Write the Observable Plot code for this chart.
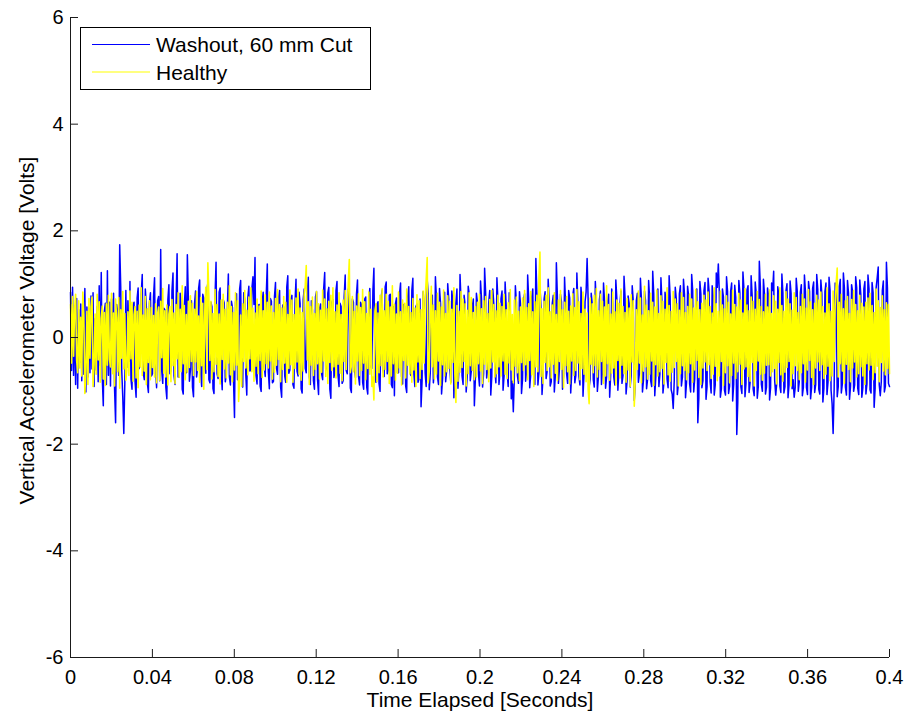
<!DOCTYPE html>
<html>
<head>
<meta charset="utf-8">
<script src="https://cdn.jsdelivr.net/npm/d3@7"></script>
<script src="https://cdn.jsdelivr.net/npm/@observablehq/plot@0.6"></script>
<style>
  html, body { margin: 0; padding: 0; background: #fff; }
  #wrap { position: relative; width: 908px; height: 717px; font-family: "Liberation Sans", Arial, sans-serif; }
  #legend { position: absolute; left: 80px; top: 27px; width: 291px; height: 63px; border: 1px solid #000; background: #fff; box-sizing: border-box; }
</style>
</head>
<body>
<div id="wrap"><div id="chart"></div><div id="legend"></div></div>
<script>
// ---- data ----
const seriesNames = ["Washout, 60 mm Cut", "Healthy"];
const seriesColors = ["#0000ff", "#ffff00"];
const timeStart = 0, timeEnd = 0.4;   // seconds covered by the samples

// Washout, 60 mm Cut: vertical accelerometer voltage [V], one row per 0.02 s
const washout = [
  0.85,-0.62,0.94,-0.71,0.41,-0.88,0.73,-0.95,0.52,-0.47,0.63,-0.81,0.38,-0.69,0.92,-1.02,0.57,-0.74,0.55,-0.66,
  0.78,-0.59,0.84,-0.92,0.35,-0.61,0.58,-0.83,0.97,-0.52,1.22,-0.76,-1.28,0.49,0.64,-0.88,1.25,-0.71,0.66,-0.91,
  0.72,-0.54,0.83,-0.97,-1.60,0.62,0.48,-0.71,1.74,0.95,-0.62,-1.12,-1.80,-0.84,0.88,-0.56,0.69,-0.45,1.05,-0.78,
  -0.97,0.61,0.66,-0.83,-1.12,0.74,0.93,-0.58,-0.51,0.82,1.18,-0.67,-0.79,0.91,0.58,-0.86,-1.03,0.64,0.84,-0.72,
  -0.68,0.77,1.12,-0.58,-0.94,0.69,0.77,-0.81,1.65,-0.62,-0.86,0.55,0.52,-0.93,-1.15,0.71,0.99,-0.68,-0.63,0.88,
  1.21,-0.72,-0.88,0.64,1.57,-0.74,-0.74,0.83,0.61,-0.97,-1.06,0.58,0.95,-0.66,1.55,0.72,-0.82,-0.61,0.69,-0.93,
  -1.11,0.63,0.87,-0.74,-0.56,0.92,1.08,-0.67,-0.92,0.81,0.74,-0.55,-0.67,0.88,1.02,-0.79,-0.85,0.66,0.58,-0.96,
  -1.05,0.77,1.41,-0.68,-0.77,0.85,0.93,-0.62,-0.98,0.71,0.65,-0.83,-0.71,0.54,1.19,-0.73,-0.89,0.68,0.56,-0.78,
  -1.50,0.66,0.82,-0.79,-0.64,0.91,1.07,-0.58,-0.93,0.84,0.71,-0.69,-1.08,0.75,0.96,-0.63,-0.59,0.92,1.14,0.62,
  1.50,-0.71,-0.87,0.58,0.62,-0.91,-1.01,0.67,0.85,-0.55,-0.73,0.81,1.38,-0.64,-0.96,0.73,0.68,-0.85,-0.82,0.77,
  1.03,-0.58,-0.69,0.74,0.88,-0.93,-1.12,0.61,0.57,-0.72,-0.84,0.95,1.16,-0.67,-0.61,0.73,0.79,-0.88,-0.95,0.64,
  1.09,-0.63,-0.72,0.85,0.64,-0.96,-1.04,0.71,0.91,-0.58,-0.66,0.82,1.13,-0.74,-0.88,0.69,0.52,-0.81,-0.97,0.76,
  0.86,-0.79,-1.07,0.55,0.63,-0.68,-0.79,0.92,1.22,-0.61,-0.54,0.83,0.94,-0.97,-1.14,0.66,0.71,-0.75,-0.63,0.88,
  1.05,-0.71,-0.92,0.64,0.58,-0.86,-0.81,0.77,1.17,-0.62,-0.68,0.91,0.83,-0.95,-1.03,0.72,0.66,-0.58,-0.75,0.81,
  1.08,-0.73,-0.89,0.66,0.61,-0.84,-0.97,0.72,0.76,-0.93,-1.06,0.68,0.92,-0.55,-0.58,0.87,1.30,-0.71,-0.84,0.62,
  0.67,-0.86,-1.01,0.74,0.89,-0.61,-0.73,0.95,1.04,-0.68,-0.62,0.79,0.81,-0.88,-0.94,0.58,-1.09,0.63,0.74,-0.66,
  -0.66,0.81,1.02,-0.73,-0.87,0.62,0.59,-0.91,-1.03,0.77,0.95,-0.64,-0.71,0.88,1.11,-0.69,-0.92,0.58,0.63,-0.84,
  -0.78,0.72,-1.30,-0.81,0.86,0.61,-0.67,-0.92,1.07,0.83,-0.98,-0.66,0.55,0.79,-0.85,-0.62,1.14,0.71,-0.74,-0.88,
  0.92,0.64,-1.06,-0.77,0.68,0.85,-0.83,-0.61,1.01,0.72,-0.59,-0.84,0.87,0.66,-1.13,-0.73,0.64,0.91,-0.95,-0.58,
  1.18,0.69,-0.72,-0.88,0.79,0.61,-1.02,-0.74,0.96,0.81,-0.81,-0.63,0.57,0.72,-1.28,-0.77,0.83,0.66,-0.69,-0.91,
  1.06,0.72,-0.93,-0.68,1.30,0.84,-0.76,-0.59,0.65,0.88,-1.08,-0.73,0.91,0.62,-0.62,-0.85,1.12,0.69,-0.88,-0.64,
  0.73,0.87,-0.99,-0.71,1.04,0.61,-0.67,-0.92,0.84,0.58,-1.15,-0.82,-1.39,-0.74,0.97,0.66,-0.71,-0.86,0.86,0.63,
  -1.05,-0.78,0.69,0.82,-0.82,-0.61,1.17,0.73,-0.94,-0.69,0.76,0.91,-0.63,-0.88,1.48,0.81,-0.89,-0.66,0.95,0.59,
  -1.07,-0.74,0.72,0.86,-0.77,-0.63,1.09,0.68,-0.91,-0.83,0.64,0.79,-1.02,-0.71,1.40,0.77,-0.86,-0.58,0.81,0.67,
  -0.97,-0.72,1.13,0.61,-0.68,-0.86,0.88,0.74,-1.04,-0.65,0.79,0.92,-0.85,-0.71,1.21,0.63,-0.73,-0.89,0.94,0.68,
  -1.10,-0.66,0.67,0.85,1.48,0.71,-0.92,-0.78,0.83,0.62,-0.79,-0.93,1.05,0.66,-1.01,-0.74,0.71,0.87,-0.88,-0.63,
  1.02,0.68,-0.95,-0.74,0.66,0.81,-1.12,-0.69,0.91,0.64,-0.74,-0.89,1.08,0.73,-0.99,-0.62,0.62,0.87,-0.86,-0.71,
  1.15,0.76,-1.06,-0.82,0.78,0.64,-0.93,-0.71,0.97,0.69,-1.18,-0.86,0.69,0.83,-0.84,-0.68,1.11,0.72,-1.02,-0.79,
  0.87,0.69,-0.96,-0.78,1.07,0.73,-0.81,-0.92,1.24,0.82,-1.09,-0.74,0.73,0.91,-0.92,-0.69,1.12,0.68,-1.04,-0.83,
  0.85,0.66,-0.78,-0.94,1.16,0.77,-0.98,-1.06,-1.33,-0.81,0.94,0.72,-1.07,-0.88,0.82,0.97,-0.91,-0.74,1.09,0.81,
  -1.13,-0.84,0.96,0.79,-0.87,-1.02,1.18,0.88,-1.02,-0.77,0.79,0.91,-1.60,-1.14,1.05,0.82,-0.94,-0.81,0.88,1.03,
  -1.16,-0.92,1.11,0.86,-0.83,-1.04,0.97,0.79,-1.08,-0.89,1.21,0.94,1.38,0.84,-1.12,-0.96,0.91,0.76,-0.99,-1.08,
  1.14,0.87,-1.05,-0.91,0.86,1.02,-1.19,-0.88,0.98,0.76,-1.82,-1.21,1.07,0.84,-0.92,-1.05,1.23,0.91,-1.11,-0.86,
  0.89,0.97,-1.03,-0.84,1.16,0.79,-0.97,-1.09,1.04,0.81,-1.14,-0.92,1.43,0.96,-0.88,-1.01,1.09,0.82,-1.06,-0.93,
  0.93,0.78,-1.17,-0.94,1.02,0.88,1.24,-0.81,-1.08,-0.86,0.95,0.79,-0.91,-1.03,1.19,0.84,-1.04,-0.92,0.87,1.01,
  -1.13,-0.88,1.06,0.83,-0.96,-0.79,-1.12,-0.94,1.11,0.87,-1.01,-0.82,0.84,0.99,-1.09,-0.93,1.17,0.86,-0.94,-1.07,
  1.05,0.86,-1.15,-0.93,0.92,1.04,-1.03,-0.88,1.18,0.91,-0.97,-1.06,1.08,0.82,-1.21,-0.95,0.86,1.02,-1.07,-0.84,
  1.13,0.89,-0.99,-1.24,-1.80,-0.97,1.02,0.85,-1.11,-0.92,0.96,1.09,-1.04,-0.87,1.21,0.93,-0.93,-1.08,1.07,0.84,
  -1.16,-0.91,0.99,0.86,-1.01,-0.89,1.14,0.93,-0.95,-1.07,1.08,0.81,-1.12,-0.94,0.91,1.05,-1.06,-0.87,1.17,0.92,
  -0.98,-1.04,1.03,0.84,-1.31,-0.95,0.94,1.12,1.32,-0.89,-1.09,-0.83,0.88,1.06,-1.02,-0.91,1.41,0.93,-0.86,-0.92
];

// Healthy: vertical accelerometer voltage [V], one row per 0.01 s
const healthy = [
  0.62,-0.48,0.77,-0.35,0.54,0.81,-0.43,-0.66,0.69,-0.57,0.38,-0.72,0.85,0.44,-1.05,-0.61,0.49,-0.88,0.73,-0.39,
  0.58,0.76,-0.92,-0.51,0.44,-0.69,0.81,-0.42,0.67,-0.84,0.36,0.59,-0.78,0.47,-0.90,0.63,-0.52,0.79,-0.41,-0.55,
  0.83,-0.68,0.46,-0.91,0.72,0.37,-0.64,0.75,-0.95,0.52,-0.39,0.86,-0.59,0.45,-0.80,-0.62,0.48,-0.71,0.87,-0.40,
  0.66,-0.82,0.43,0.58,-0.76,0.49,-0.94,0.61,-0.55,0.93,-0.71,0.42,-0.63,0.77,-0.88,0.54,-0.47,0.69,-0.79,0.56,
  -0.56,0.41,-0.74,0.63,-0.85,0.45,0.57,-0.80,0.68,-0.38,0.92,-0.67,0.50,-0.74,0.61,-0.89,0.44,0.58,-0.83,0.71,
  -0.53,0.46,-0.86,0.62,-0.40,0.84,-0.75,0.53,-0.64,0.97,-0.49,0.60,-0.79,0.43,-0.65,0.68,-0.56,0.78,-0.45,0.64,
  -0.71,0.53,-0.46,0.86,-0.62,0.40,-0.84,0.75,-0.53,0.64,-0.97,0.49,0.94,-0.60,1.40,0.79,-0.43,0.68,-0.78,0.45,
  -0.64,0.90,-0.50,0.62,-0.73,0.44,-0.87,0.70,-0.41,0.81,-0.59,0.53,-0.76,0.66,-0.48,0.97,-0.70,0.58,-0.83,0.47,
  -0.61,0.84,-0.52,0.69,-1.20,-0.79,0.42,-0.92,0.63,-0.45,0.88,-0.57,0.51,-0.70,0.76,-0.40,0.93,-0.64,0.55,-0.82,
  0.46,-0.54,0.72,-0.68,0.59,-0.43,0.87,-0.75,0.50,-0.61,0.80,-0.49,0.66,-0.57,0.85,-0.44,0.59,-0.78,0.47,-0.65,
  0.73,-0.52,0.90,-0.41,0.62,-0.83,0.55,-0.60,0.77,-0.48,0.66,-0.84,0.43,-0.58,0.89,-0.51,0.70,-0.84,0.43,-0.58,
  0.74,-0.46,0.91,-0.69,0.55,-0.80,0.47,-0.63,0.82,0.97,1.35,-0.42,0.67,-0.88,0.58,-0.52,0.76,-0.71,0.45,-0.60,
  0.86,-0.49,0.63,-0.78,0.51,-0.65,0.89,-0.44,0.72,-0.73,0.54,-0.86,0.68,-0.47,0.79,-0.62,0.93,-0.55,0.48,-0.76,
  0.61,-0.50,0.84,-0.67,0.43,-0.81,0.70,-0.45,0.88,-0.60,0.52,1.02,1.46,-0.66,-0.53,0.77,-0.64,0.49,-0.87,0.59,
  -0.44,0.82,-0.71,0.56,-0.62,0.90,-0.48,0.67,-0.79,0.45,-0.58,0.85,-0.69,0.53,-0.92,-0.74,-1.17,0.50,0.63,-0.83,
  0.46,-0.66,0.79,-0.53,0.92,-0.74,0.50,-0.60,0.81,-0.45,0.68,-0.86,0.57,-0.72,0.97,-0.49,0.62,-0.80,0.44,-0.67,
  0.85,-0.57,0.48,-0.89,0.70,-0.43,0.64,-0.76,0.91,-0.52,0.58,-0.68,0.47,-0.84,0.73,-0.61,0.55,-0.92,0.80,-0.46,
  0.69,-0.77,0.52,-0.60,0.87,-0.48,0.74,1.08,1.50,-0.85,-0.63,0.42,0.96,-0.55,0.61,-0.78,0.50,-0.69,0.83,-0.44,
  0.66,-0.90,0.57,-0.51,0.89,-0.72,0.45,-0.64,0.78,-0.58,0.68,-0.87,0.53,-0.47,0.93,-0.70,-1.22,0.60,-0.82,0.49,
  -0.65,0.86,-0.56,0.72,-0.45,0.63,-0.91,0.51,-0.68,0.84,-0.53,0.75,-0.62,0.47,-0.79,0.58,-0.74,0.66,-0.49,0.81,
  -0.63,0.54,-0.86,0.69,-0.50,0.77,-0.60,0.45,-0.83,0.71,-0.57,0.88,-0.46,0.62,-0.74,0.50,-0.68,0.79,-0.55,0.64,
  -0.72,0.58,-0.44,0.81,-0.69,0.52,-0.77,0.65,-0.48,0.90,-0.61,0.43,-0.85,0.70,-0.54,0.76,-0.66,0.49,-0.81,0.57,
  -0.47,0.74,-0.62,0.88,-0.51,0.56,-0.79,0.63,-0.43,0.86,-0.70,0.48,-0.92,0.67,-0.55,0.79,-0.64,1.12,1.60,-0.73,
  0.54,-0.86,0.68,-0.47,0.79,-0.62,0.93,-0.55,0.48,-0.76,0.61,-0.50,0.84,-0.67,0.43,-0.81,0.70,-0.45,0.88,-0.60,
  0.52,-0.94,0.66,-0.53,0.77,-0.64,0.49,-0.87,0.59,-0.44,0.82,-0.71,0.56,-0.62,0.90,-0.48,0.67,-0.79,0.45,-0.58,
  0.85,-0.69,0.53,-0.83,0.46,-0.97,-1.24,0.74,-0.50,0.63,-0.66,0.79,-0.53,0.92,-0.74,0.50,-0.60,0.81,-0.45,0.68,
  -0.86,0.57,-0.72,0.97,-0.49,0.62,-0.80,0.44,-0.67,0.85,-0.57,0.48,-0.89,0.70,-0.43,0.64,-0.76,0.91,-0.52,0.58,
  -0.68,0.47,-0.84,0.73,-0.61,0.55,-0.92,0.80,-0.46,0.69,-1.29,-0.77,0.52,-0.60,0.87,-0.48,0.74,-0.85,0.42,-0.63,
  0.96,-0.55,0.61,-0.78,0.50,-0.69,0.83,-0.44,0.66,-0.90,0.57,-0.51,0.89,-0.72,0.45,-0.64,0.78,-0.58,0.68,-0.87,
  0.53,-0.47,0.93,-0.70,0.60,-0.82,0.49,-0.65,0.86,-0.56,0.72,-0.45,0.63,-0.91,0.51,-0.68,0.84,-0.53,0.75,-0.62,
  0.47,-0.79,0.58,-0.66,0.81,-0.49,0.72,-0.84,0.55,-0.61,0.90,-0.43,0.67,-0.75,0.52,-0.88,0.64,-0.57,0.79,-0.46,
  0.70,-0.62,0.85,-0.51,0.58,-0.77,0.46,-0.69,0.93,-0.54,0.63,-0.81,0.49,-0.72,0.87,-0.45,0.61,-0.90,0.54,-0.66,
  0.78,-0.53,0.66,-0.85,0.44,-0.71,0.89,-0.48,0.62,-0.77,0.57,-0.64,0.83,-0.50,0.70,-0.88,0.46,-0.59,0.92,-0.55,
  0.61,-0.73,0.50,-0.82,0.76,-0.47,0.68,-0.91,0.53,-0.62,0.86,-0.44,0.71,-0.69,0.58,-0.80,0.48,-0.67,0.81,-0.52,
  0.57,-0.51,0.89,-0.72,0.45,-0.64,0.78,-0.58,0.68,-0.87,0.53,-0.47,0.93,-0.70,0.60,-0.82,0.49,-0.65,0.86,-0.56,
  0.72,-0.45,0.63,-0.91,0.51,-0.68,0.84,-0.53,0.75,-0.62,0.47,-0.79,0.58,-0.66,0.81,-0.49,0.72,-0.84,0.55,-0.61,
  0.90,-0.43,0.67,-0.75,0.52,-0.88,0.64,-0.57,0.79,-0.46,0.70,-0.62,0.85,-0.51,0.58,-0.77,0.46,-0.69,0.93,-0.54,
  0.63,-0.81,0.49,-0.72,0.87,-0.45,0.61,1.02,1.30,-0.74,0.66,-0.49,0.81,-0.63,0.54,-0.86,0.69,-0.50,0.77,-0.60,
  0.45,-0.83,0.71,-0.57,0.88,-0.46,0.62,-0.74,0.50,-0.68,0.79,-0.55,0.64,-0.72,0.57,-0.88,0.66,-0.49,0.74,-0.61,
  0.83,-0.52,0.60,-0.79,0.47,-0.66,0.91,-0.54,0.69,-0.83,0.56,-0.47,0.78,-0.63,0.52,-0.70,0.65,-0.58,0.62,-0.68
];

const xTickValues = [0, 0.04, 0.08, 0.12, 0.16, 0.2, 0.24, 0.28, 0.32, 0.36, 0.4];
const xTickLabels = ["0", "0.04", "0.08", "0.12", "0.16", "0.2", "0.24", "0.28", "0.32", "0.36", "0.4"];
const yTickValues = [-6, -4, -2, 0, 2, 4, 6];
const yTickLabels = ["-6", "-4", "-2", "0", "2", "4", "6"];
const xLabel = "Time Elapsed [Seconds]";
const yLabel = "Vertical Accelerometer Voltage [Volts]";

// ---- build tables (samples evenly spaced over the recorded span) ----
function toRows(values) {
  const n = values.length;
  return values.map((v, i) => ({t: timeStart + i * (timeEnd - timeStart) / (n - 1), v}));
}
const washoutRows = toRows(washout);
const healthyRows = toRows(healthy);

const W = 908, H = 717;
const mL = 70, mR = 19, mT = 17, mB = 60;
const frameW = W - mL - mR, frameH = H - mT - mB;
const tickLen = 8;
const axisColor = "#1a1a1a";
const font = '"Liberation Sans", Arial, sans-serif';

const chart = Plot.plot({
  width: W, height: H,
  marginLeft: mL, marginRight: mR, marginTop: mT, marginBottom: mB,
  x: {domain: [timeStart, timeEnd]},
  y: {domain: [-6, 6]},
  style: {fontFamily: font, fontSize: "20px", color: "#000", background: "#fff", overflow: "visible"},
  marks: [
    Plot.line(washoutRows, {x: "t", y: "v", stroke: seriesColors[0], strokeWidth: 1.5}),
    Plot.line(healthyRows, {x: "t", y: "v", stroke: seriesColors[1], strokeWidth: 1.6}),
    Plot.ruleX([timeStart], {stroke: axisColor, strokeWidth: 1}),
    Plot.ruleY([-6], {stroke: axisColor, strokeWidth: 1}),
    Plot.ruleX(xTickValues, {stroke: axisColor, insetTop: frameH - tickLen}),
    Plot.ruleY(yTickValues, {stroke: axisColor, insetRight: frameW - tickLen}),
    Plot.axisX(xTickValues, {tickSize: 0, tickPadding: 12, fontSize: 20, label: null,
      tickFormat: d => xTickLabels[xTickValues.indexOf(d)]}),
    Plot.axisY(yTickValues, {tickSize: 0, tickPadding: 7, fontSize: 20, label: null,
      tickFormat: d => yTickLabels[yTickValues.indexOf(d)]}),
    Plot.text([xLabel], {frameAnchor: "bottom", lineAnchor: "middle", textAnchor: "middle", dy: 43, fontSize: 21, fill: "#000"}),
    Plot.text([yLabel], {frameAnchor: "left", lineAnchor: "middle", textAnchor: "middle", rotate: -90, dx: -43, dy: -7, fontSize: 21, fill: "#000"})
  ]
});
document.getElementById("chart").appendChild(chart);

// ---- legend (inside the axes, top-left) ----
const legend = d3.select("#legend").append("svg").attr("width", 289).attr("height", 61)
  .style("display", "block").style("font-family", font);
seriesNames.forEach((name, i) => {
  const y = 16.5 + i * 27.5;
  legend.append("line").attr("x1", 11).attr("x2", 69).attr("y1", y).attr("y2", y)
    .attr("stroke", seriesColors[i]).attr("stroke-width", 1.2);
  legend.append("text").attr("x", 75).attr("y", y).attr("dy", "0.36em")
    .attr("font-size", 21).attr("fill", "#000").text(name);
});
</script>
</body>
</html>
